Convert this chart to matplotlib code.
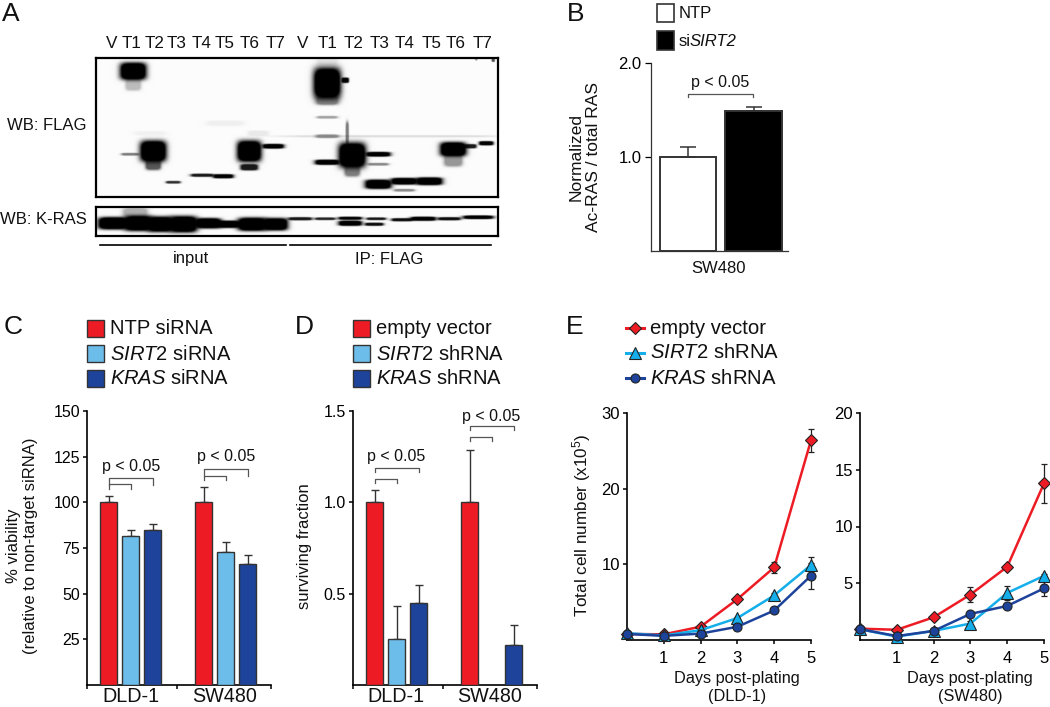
import numpy as np
import matplotlib
matplotlib.use('Agg')
import matplotlib.pyplot as plt
from matplotlib.patches import Rectangle
from matplotlib.lines import Line2D

W, H = 1050, 707

plt.rcParams['font.family'] = ['Liberation Sans', 'DejaVu Sans']
plt.rcParams['mathtext.fontset'] = 'custom'
plt.rcParams['mathtext.rm'] = 'Liberation Sans'
plt.rcParams['mathtext.it'] = 'Liberation Sans:italic'
plt.rcParams['mathtext.default'] = 'regular'

# panel A
lane_labels = ['V', 'T1', 'T2', 'T3', 'T4', 'T5', 'T6', 'T7'] * 2
lane_x = [112, 132, 155, 177, 202, 225, 250, 276, 303, 328, 354, 380, 405, 432, 456, 483]

# x, y, width, height, darkness of each band
flag_bands = [
    (133, 71, 26, 17, 1), (133, 84, 15, 12, .25), (130, 154, 17, 2.5, .5),
    (153, 151, 26, 21, 1), (153, 164, 15, 11, .65),
    (173, 182, 14, 2.5, .8), (202, 175, 22, 3, .9), (223, 176, 20, 4, 1),
    (249, 151, 24, 21, 1), (249, 167, 17, 6, .9), (273, 146, 21, 4.5, 1),
    (150, 133, 30, 4, .04), (225, 123, 35, 5, .05), (258, 133, 20, 5, .07),
    (327, 83, 27, 31, 1), (327, 100, 22, 9, .45), (327, 60, 20, 10, .08),
    (345, 80, 7, 5, 1), (327, 162, 24, 5, 1), (327, 117, 20, 2.5, .35),
    (327, 136, 22, 3.5, .4), (390, 136, 205, 2, .12),
    (352, 155, 27, 25, 1), (352, 170, 15, 12, .5), (347, 133, 3, 22, .5),
    (378, 154, 24, 4.5, 1), (378, 164, 20, 2.5, .45), (378, 184, 26, 9, 1),
    (404, 181, 26, 6.5, 1), (404, 190, 20, 2.5, .45), (429, 181, 26, 7.5, 1),
    (453, 149, 26, 14, 1), (453, 160, 18, 12, .4),
    (470, 146, 12, 4, .9), (486, 143, 14, 4, 1),
    (493, 60, 3, 3, .7), (476, 59, 2, 2, .5),
]
kras_bands = [
    (113, 223, 30, 12, 1), (138, 223, 28, 15, 1), (160, 224, 26, 15, 1),
    (183, 224, 28, 16, 1), (208, 223, 26, 10, 1), (228, 224, 24, 7, 1),
    (252, 224, 29, 13, 1), (275, 224, 25, 12, 1), (135, 212, 24, 8, .3),
    (300, 218.5, 23, 3, .9), (325, 218.5, 20, 2.5, .85), (350, 218, 23, 3, 1),
    (350, 223, 23, 5, 1), (376, 218.5, 19, 2.5, .9), (374, 224, 18, 3, .95),
    (402, 219.5, 21, 3, .95), (423, 218.5, 25, 4, 1), (449, 218.5, 22, 3, .95),
    (478, 217, 30, 3.5, 1),
]

# panel B
b_values = [1.0, 1.49]
b_errors = [0.11, 0.04]
b_ticks = [1.0, 2.0]

# panels C, D
groups = ['DLD-1', 'SW480']
c_values = [[100, 81.5, 85], [100, 73, 66]]
c_errors = [[3.5, 3.5, 3], [8.5, 5.5, 5]]
c_ticks = [25, 50, 75, 100, 125, 150]
d_values = [[1.0, 0.25, 0.45], [1.0, np.nan, 0.22]]
d_errors = [[0.07, 0.18, 0.10], [0.285, np.nan, 0.11]]
d_ticks = [0.5, 1.0, 1.5]
bar_colors = ['#ED1C24', '#6DBDEA', '#1D439B']

# panel E
days = [0, 1, 2, 3, 4, 5]
dld_empty = [0.8, 0.75, 1.76, 5.4, 9.6, 26.4]
dld_sirt2 = [0.9, 0.6, 1.3, 2.9, 5.9, 9.9]
dld_kras = [0.8, 0.55, 0.85, 1.75, 3.9, 8.5]
dld_empty_err = [0.1, 0.1, 0.2, 0.3, 0.7, 1.5]
dld_sirt2_err = [0, 0, 0.1, 0.2, 0.3, 1.1]
dld_kras_err = [0, 0, 0.1, 0.1, 0.2, 1.7]
sw_empty = [1.0, 0.9, 2.0, 4.0, 6.45, 13.8]
sw_sirt2 = [0.95, 0.3, 0.8, 1.45, 4.15, 5.65]
sw_kras = [0.95, 0.35, 0.8, 2.3, 3.0, 4.55]
sw_empty_err = [0.1, 0.1, 0.1, 0.65, 0.2, 1.7]
sw_sirt2_err = [0, 0, 0.1, 0.2, 0.6, 0.2]
sw_kras_err = [0, 0, 0.1, 0.1, 0.1, 0.7]
line_colors = ['#ED1C24', '#14AEEA', '#1D439B']
line_markers = ['D', '^', 'o']
marker_sizes = [6.5, 8, 6.5]

fig = plt.figure(figsize=(W / 100, H / 100), dpi=100)


def px_axes(left, right, top, bottom):
    return fig.add_axes([left / W, 1 - bottom / H, (right - left) / W, (bottom - top) / H])


def label(x, y, s, size=12, **kw):
    kw.setdefault('ha', 'center')
    kw.setdefault('va', 'center')
    fig.text(x / W, 1 - y / H, s, fontsize=size, color='#111111', **kw)


def blot(left, right, top, bottom, bands):
    xs = np.arange(left, right, 0.5)
    ys = np.arange(top, bottom, 0.5)
    xx, yy = np.meshgrid(xs, ys)
    img = np.ones_like(xx)
    for x, y, w, h, dark in bands:
        g = np.exp(-(((xx - x) / (w / 2)) ** 4 + ((yy - y) / (h / 2)) ** 4))
        # big bands are saturated on the film
        g = np.minimum(1, g * 1.8)
        img *= 1 - dark * g
    ax = px_axes(left, right, top, bottom)
    ax.imshow(img * 0.985, cmap='gray', vmin=0, vmax=1, aspect='auto',
              extent=(left, right, bottom, top), interpolation='bilinear')
    ax.set_xticks([])
    ax.set_yticks([])
    for s in ax.spines.values():
        s.set_linewidth(1.6)
    return ax


def clean(ax):
    ax.spines['top'].set_visible(False)
    ax.spines['right'].set_visible(False)
    ax.spines['left'].set_linewidth(1.2)
    ax.spines['bottom'].set_linewidth(1.2)
    ax.patch.set_alpha(0)


def bracket(ax, x0, x1, y, drop):
    ax.plot([x0, x0, x1, x1], [y - drop, y, y, y - drop], color='#555555', lw=0.9,
            clip_on=False)


def bar_panel(ax, values, errors, ymax, ticks, fmt, mid):
    # one group step is 95 px, bars sit 22 px apart and are 17 px wide
    left_pad, right_pad = 43.5, 45.5
    ax.set_xlim(-left_pad / 95, 1 + right_pad / 95)
    ax.set_ylim(0, ymax)
    for g, (vals, errs) in enumerate(zip(values, errors)):
        for i in range(3):
            if np.isnan(vals[i]):
                continue
            x = g + (i - 1) * 22 / 95
            ax.bar(x, vals[i], 17.5 / 95, color=bar_colors[i], edgecolor='#333333',
                   linewidth=1, zorder=3)
            ax.errorbar(x, vals[i], yerr=[[0], [errs[i]]], color='#333333', capsize=2.6,
                        elinewidth=1, capthick=1, zorder=2)
    clean(ax)
    ax.set_yticks(ticks, [fmt % t for t in ticks], fontsize=11.5)
    ax.set_xticks([mid, -left_pad / 95, 1 + right_pad / 95], ['', '', ''])
    ax.tick_params(axis='both', length=3, width=1.1, pad=2)


def legend_boxes(x, names):
    for y, name, col in zip([320, 345, 370], names, bar_colors):
        fig.add_artist(Rectangle((x / W, 1 - (y + 17) / H), 16.5 / W, 17 / H, facecolor=col,
                                 edgecolor='#333333', linewidth=1, transform=fig.transFigure))
        label(x + 23, y + 9, name, 14.5, ha='left')


# A
label(11, 14, 'A', 19)
for x, s in zip(lane_x, lane_labels):
    label(x, 43, s, 12.3)
blot(96, 498, 58, 197, flag_bands)
blot(96, 498, 207, 236, kras_bands)
label(47, 126, 'WB: FLAG', 12)
label(43, 220, 'WB: K-RAS', 12)
fig.add_artist(Line2D([100 / W, 286 / W], [1 - 245 / H] * 2, color='k', lw=1.2))
fig.add_artist(Line2D([290 / W, 491 / W], [1 - 245 / H] * 2, color='k', lw=1.2))
label(191, 259, 'input', 12)
label(389, 259, 'IP: FLAG', 12)

# B
label(576, 14, 'B', 19)
ax_b = px_axes(651, 788, 63, 251)
ax_b.set_xlim(651, 788)
ax_b.set_ylim(0, 2)
ax_b.bar(688, b_values[0], 56, color='white', edgecolor='#333333', linewidth=1.4)
ax_b.bar(753.5, b_values[1], 57, color='black', edgecolor='#333333', linewidth=1.4)
ax_b.errorbar([688, 753.5], b_values, yerr=[[0, 0], b_errors], ls='none', color='#333333',
              capsize=5.5, elinewidth=1.1, capthick=1.1, zorder=1)
clean(ax_b)
ax_b.spines['left'].set_linewidth(0.9)
ax_b.spines['bottom'].set_linewidth(0.9)
ax_b.spines['left'].set_color('#333333')
ax_b.spines['bottom'].set_color('#333333')
ax_b.set_xticks([])
ax_b.set_yticks(b_ticks, ['%.1f' % t for t in b_ticks], fontsize=12)
ax_b.tick_params(axis='y', length=4, width=0.9, pad=3)
bracket(ax_b, 688, 753, 1.67, 0.035)
label(720, 82, 'p < 0.05', 11.5)
for y, col in zip([3.5, 31], ['white', 'black']):
    fig.add_artist(Rectangle((657 / W, 1 - (y + 18.5) / H), 17 / W, 18.5 / H, facecolor=col,
                             edgecolor='#333333', linewidth=1.2, transform=fig.transFigure))
label(679, 14, 'NTP', 12, ha='left')
label(679, 41, 'si', 12, ha='left')
label(690, 41, 'SIRT2', 12, ha='left', style='italic')
label(585, 157, 'Normalized\nAc-RAS / total RAS', 12.5, rotation=90, linespacing=1.2)
label(719, 269, 'SW480', 12)

# C
label(13, 327, 'C', 19)
legend_boxes(87, ['NTP siRNA', r'$\mathit{SIRT}$2 siRNA', r'$\mathit{KRAS}$ siRNA'])
ax_c = px_axes(87, 271, 411, 685)
bar_panel(ax_c, c_values, c_errors, 150, c_ticks, '%d', (177 - 130.5) / 95)
bracket(ax_c, -22 / 95, 22 / 95, 113.5, 4)
bracket(ax_c, -22 / 95, 0, 110, 2.5)
bracket(ax_c, 1 - 22 / 95, 1 + 22 / 95, 118.5, 4)
bracket(ax_c, 1 - 22 / 95, 1, 114.5, 2.5)
label(131, 466, 'p < 0.05', 11.5)
label(226, 457, 'p < 0.05', 11.5)
label(131, 696.5, groups[0], 14.2)
label(225, 696.5, groups[1], 14.2)
label(22, 546, '% viability\n(relative to non-target siRNA)', 12, rotation=90, linespacing=1.2)

# D
label(304, 327, 'D', 19)
legend_boxes(353, ['empty vector', r'$\mathit{SIRT}$2 shRNA', r'$\mathit{KRAS}$ shRNA'])
ax_d = px_axes(353, 537, 411, 685)
bar_panel(ax_d, d_values, d_errors, 1.5, d_ticks, '%.1f', (443 - 396.5) / 95)
bracket(ax_d, -22 / 95, 22 / 95, 1.19, 0.025)
bracket(ax_d, -22 / 95, 0, 1.13, 0.025)
bracket(ax_d, 1 - 22 / 95, 1 + 22 / 95, 1.42, 0.025)
bracket(ax_d, 1 - 22 / 95, 1, 1.36, 0.025)
label(396, 457, 'p < 0.05', 11.5)
label(491, 416, 'p < 0.05', 11.5)
label(396, 696.5, groups[0], 14.2)
label(490, 696.5, groups[1], 14.2)
label(305, 546, 'surviving fraction', 12, rotation=90)

# E
label(575, 327, 'E', 19)


def growth(ax, series, errs, ymax, ticks):
    ax.set_xlim(0, 5)
    ax.set_ylim(0, ymax)
    for vals, err, col, m, ms in zip(series, errs, line_colors, line_markers, marker_sizes):
        ax.errorbar(days, vals, yerr=err, color='#222222', ls='none', capsize=2.3,
                    elinewidth=0.9, capthick=0.9, zorder=2, clip_on=False)
        ax.plot(days, vals, color=col, lw=1.8, marker=m, ms=ms, mfc=col, mec='#222222',
                mew=0.8, zorder=3, clip_on=False)
    clean(ax)
    ax.set_xticks(days[1:], [str(d) for d in days[1:]], fontsize=12)
    ax.set_yticks(ticks, [str(t) for t in ticks], fontsize=12)
    ax.tick_params(axis='both', length=3, width=1.1, pad=2)
    ax.tick_params(axis='x', pad=5)


ax_e1 = px_axes(627, 811, 413, 640)
growth(ax_e1, [dld_empty, dld_sirt2, dld_kras], [dld_empty_err, dld_sirt2_err, dld_kras_err],
       30, [10, 20, 30])
ax_e2 = px_axes(860, 1044, 413, 640)
growth(ax_e2, [sw_empty, sw_sirt2, sw_kras], [sw_empty_err, sw_sirt2_err, sw_kras_err],
       20, [5, 10, 15, 20])
label(737, 687.5, 'Days post-plating\n(DLD-1)', 11.7, linespacing=1.3)
label(970, 687.5, 'Days post-plating\n(SW480)', 11.7, linespacing=1.3)
label(582, 525, r'Total cell number (x10$^{5}$)', 12.3, rotation=90)

names = ['empty vector', r'$\mathit{SIRT}$2 shRNA', r'$\mathit{KRAS}$ shRNA']
for y, name, col, m, ms in zip([328, 353, 378], names, line_colors, line_markers, marker_sizes):
    fig.add_artist(Line2D([626 / W, 644 / W], [1 - y / H] * 2, color=col, lw=2.2))
    fig.add_artist(Line2D([635 / W], [1 - y / H], color=col, marker=m, ms=ms, mfc=col,
                          mec='#222222', mew=0.8, ls='none'))
    label(650, y, name, 14.6, ha='left')

fig.savefig('out.png', dpi=100)
